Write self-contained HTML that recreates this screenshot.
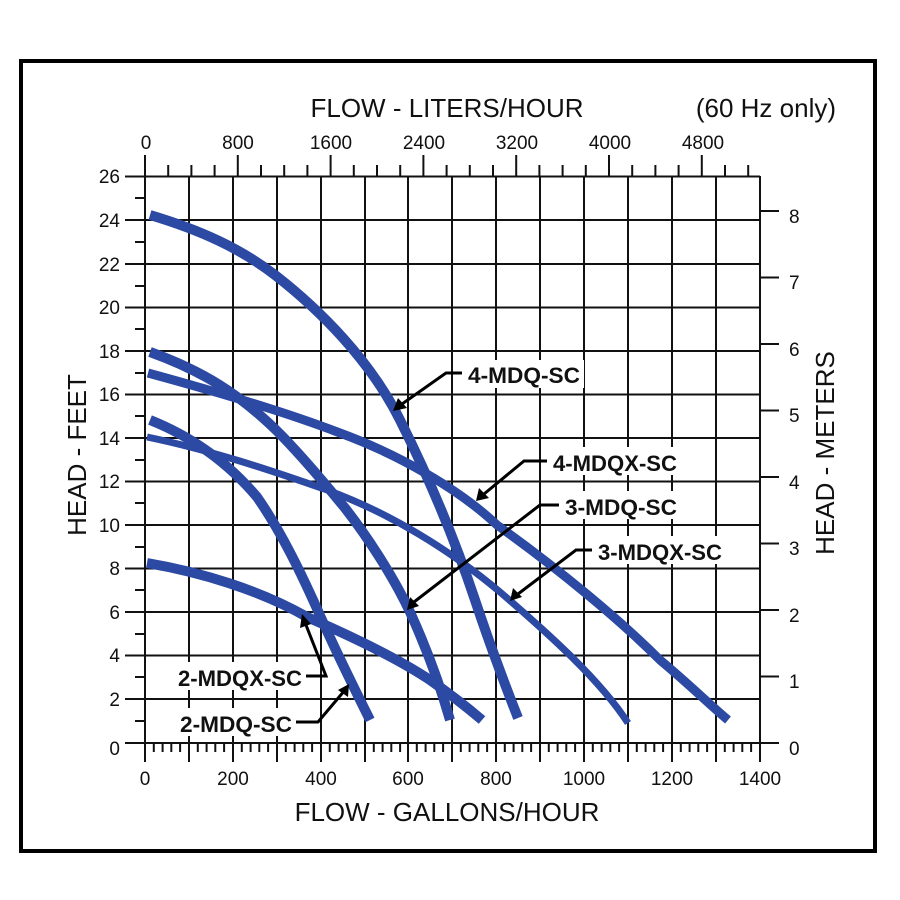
<!DOCTYPE html>
<html><head><meta charset="utf-8"><style>
html,body{margin:0;padding:0;background:#fff}
svg{display:block}
.t{font-family:"Liberation Sans",sans-serif;fill:#111}
.lb{font-family:"Liberation Sans",sans-serif;font-weight:bold;font-size:22px;fill:#111}
</style></head><body>
<svg width="900" height="900" viewBox="0 0 900 900" xmlns="http://www.w3.org/2000/svg">
<rect x="0" y="0" width="900" height="900" fill="#fff"/>
<rect x="21" y="61" width="854" height="790" fill="none" stroke="#000" stroke-width="4"/>
<g stroke="#111" stroke-width="2" fill="none">
<path d="M145 176V743 M189 176V743 M233 176V743 M277 176V743 M321 176V743 M365 176V743 M408 176V743 M452 176V743 M496 176V743 M540 176V743 M584 176V743 M628 176V743 M672 176V743 M716 176V743 M760 176V743"/>
<path d="M145 176.5H760 M145 220H760 M145 264H760 M145 307.5H760 M145 351H760 M145 394.5H760 M145 438H760 M145 481.5H760 M145 525H760 M145 568.5H760 M145 612H760 M145 655.5H760 M145 699H760 M145 743H760"/>
<path d="M125 176.5H145 M125 220H145 M125 264H145 M125 307.5H145 M125 351H145 M125 394.5H145 M125 438H145 M125 481.5H145 M125 525H145 M125 568.5H145 M125 612H145 M125 655.5H145 M125 699H145 M125 743H145
M135 198H145 M135 242H145 M135 286H145 M135 329H145 M135 373H145 M135 416H145 M135 460H145 M135 503H145 M135 547H145 M135 590H145 M135 634H145 M135 677H145 M135 721H145"/>
<path d="M760 743H779 M760 676.5H779 M760 610H779 M760 543.5H779 M760 477H779 M760 410.5H779 M760 344H779 M760 277.5H779 M760 211H779"/>
<path d="M145 176V155 M168.2 176V165 M191.4 176V165 M214.6 176V165 M237.8 176V155 M261 176V165 M284.2 176V165 M307.4 176V165 M330.6 176V155 M353.8 176V165 M377 176V165 M400.2 176V165 M423.4 176V155 M446.6 176V165 M469.8 176V165 M493 176V165 M516.2 176V155 M539.4 176V165 M562.6 176V165 M585.8 176V165 M609 176V155 M632.2 176V165 M655.4 176V165 M678.6 176V165 M701.8 176V155 M725 176V165 M748.2 176V165"/>
<path d="M145 743V762 M189 743V762 M233 743V762 M277 743V762 M321 743V762 M365 743V762 M408 743V762 M452 743V762 M496 743V762 M540 743V762 M584 743V762 M628 743V762 M672 743V762 M716 743V762 M760 743V762"/>
<path d="M153.8 743V752 M162.6 743V752 M171.3 743V752 M180.1 743V752 M197.8 743V752 M206.6 743V752 M215.3 743V752 M224.1 743V752 M241.8 743V752 M250.6 743V752 M259.3 743V752 M268.1 743V752 M285.8 743V752 M294.6 743V752 M303.3 743V752 M312.1 743V752 M329.8 743V752 M338.6 743V752 M347.3 743V752 M356.1 743V752 M373.8 743V752 M382.6 743V752 M391.3 743V752 M400.1 743V752 M416.8 743V752 M425.6 743V752 M434.3 743V752 M443.1 743V752 M460.8 743V752 M469.6 743V752 M478.3 743V752 M487.1 743V752 M504.8 743V752 M513.6 743V752 M522.3 743V752 M531.1 743V752 M548.8 743V752 M557.6 743V752 M566.3 743V752 M575.1 743V752 M592.8 743V752 M601.6 743V752 M610.3 743V752 M619.1 743V752 M636.8 743V752 M645.6 743V752 M654.3 743V752 M663.1 743V752 M680.8 743V752 M689.6 743V752 M698.3 743V752 M707.1 743V752 M724.8 743V752 M733.6 743V752 M742.3 743V752 M751.1 743V752"/>
</g>
<g fill="none" stroke="#2c49a3" stroke-linejoin="round">
<path stroke-width="10" d="M150 215 C200 230 240 248 275 275 C320 310 370 360 400 420 C430 480 455 540 475 600 C490 645 505 685 518 718"/>
<path stroke-width="9" d="M148 373 C210 390 280 410 340 433 C400 455 460 490 497 525 C560 570 620 620 660 660 C690 685 710 705 728 720"/>
<path stroke-width="7" d="M147 437 C210 450 270 470 327 490 C390 513 450 550 500 592 C550 635 600 680 628 723"/>
<path stroke-width="10" d="M150 352 C200 370 240 393 283 437 C310 465 330 490 345 508 C370 540 395 580 410 612 C425 645 440 685 450 720"/>
<path stroke-width="10" d="M150 420 C195 438 230 465 257 497 C280 530 300 570 322 620 C340 660 355 690 370 720"/>
<path stroke-width="10" d="M147 563 C200 572 260 590 307 617 C360 640 400 660 430 680 C450 694 468 708 482 720"/>
</g>
<g fill="#fff">
<rect x="464" y="360" width="120" height="28"/>
<rect x="549" y="447" width="130" height="28"/>
<rect x="561" y="491" width="120" height="28"/>
<rect x="594" y="536" width="132" height="28"/>
<rect x="174" y="662" width="132" height="28"/>
<rect x="176" y="708" width="120" height="28"/>
</g>
<g stroke="#000" stroke-width="3" fill="none">
<path d="M462 373H446L402 404"/>
<path d="M547 461H524L484 494"/>
<path d="M559 505H540L414 602"/>
<path d="M592 550H576L518 594"/>
<path d="M306 676H326L306 625"/>
<path d="M296 722H318L345 690"/>
</g>
<g fill="#000">
<polygon points="393,411 398,398 407,408"/>
<polygon points="476,501 479,488 489,498"/>
<polygon points="407,610 410,597 419,606"/>
<polygon points="510,601 513,588 522,597"/>
<polygon points="302,614 300,628 311,624"/>
<polygon points="349,684 338,690 348,697"/>
</g>
<g class="lb">
<text x="468" y="383" textLength="112" lengthAdjust="spacingAndGlyphs">4-MDQ-SC</text>
<text x="553" y="471" textLength="124" lengthAdjust="spacingAndGlyphs">4-MDQX-SC</text>
<text x="565" y="515" textLength="112" lengthAdjust="spacingAndGlyphs">3-MDQ-SC</text>
<text x="598" y="560" textLength="124" lengthAdjust="spacingAndGlyphs">3-MDQX-SC</text>
<text x="178" y="686" textLength="124" lengthAdjust="spacingAndGlyphs">2-MDQX-SC</text>
<text x="180" y="732" textLength="112" lengthAdjust="spacingAndGlyphs">2-MDQ-SC</text>
</g>
<g class="t" font-size="19" text-anchor="end">
<text x="120" y="183">26</text><text x="120" y="227">24</text><text x="120" y="271">22</text><text x="120" y="314">20</text><text x="120" y="358">18</text><text x="120" y="401">16</text><text x="120" y="445">14</text><text x="120" y="488">12</text><text x="120" y="532">10</text><text x="120" y="575">8</text><text x="120" y="619">6</text><text x="120" y="662">4</text><text x="120" y="706">2</text><text x="120" y="755">0</text>
</g>
<g class="t" font-size="19">
<text x="789" y="755">0</text><text x="789" y="688">1</text><text x="789" y="622">2</text><text x="789" y="555">3</text><text x="789" y="489">4</text><text x="789" y="422">5</text><text x="789" y="356">6</text><text x="789" y="289">7</text><text x="789" y="223">8</text>
</g>
<g class="t" font-size="19" text-anchor="middle">
<text x="145" y="785">0</text><text x="233" y="785">200</text><text x="321" y="785">400</text><text x="408" y="785">600</text><text x="496" y="785">800</text><text x="584" y="785">1000</text><text x="672" y="785">1200</text><text x="760" y="785">1400</text>
<text x="146" y="149">0</text><text x="238" y="149">800</text><text x="331" y="149">1600</text><text x="424" y="149">2400</text><text x="517" y="149">3200</text><text x="610" y="149">4000</text><text x="703" y="149">4800</text>
</g>
<g class="t" font-size="26">
<text x="447" y="117" text-anchor="middle">FLOW - LITERS/HOUR</text>
<text x="836" y="117" text-anchor="end">(60 Hz only)</text>
<text x="447" y="821" text-anchor="middle">FLOW - GALLONS/HOUR</text>
<text transform="translate(86,455) rotate(-90)" text-anchor="middle">HEAD - FEET</text>
<text transform="translate(834,453) rotate(-90)" text-anchor="middle">HEAD - METERS</text>
</g>
</svg>
</body></html>
